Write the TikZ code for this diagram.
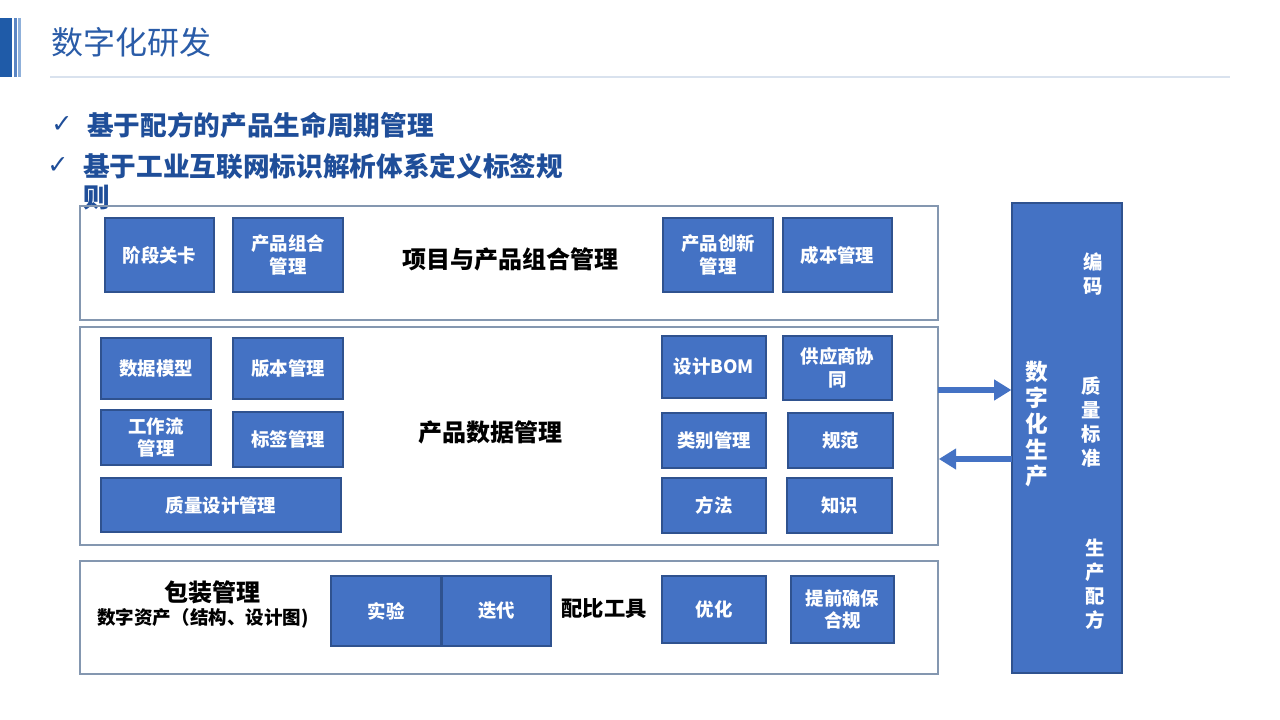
\documentclass[tikz,border=0pt]{standalone}
\usepackage{fontspec}
\setmainfont{Noto Sans CJK SC}
\newfontfamily\symf{DejaVu Sans}
\usetikzlibrary{arrows.meta}
\definecolor{boxblue}{HTML}{4472C4}
\definecolor{boxedge}{HTML}{2F528F}
\definecolor{frame}{HTML}{8497B0}
\definecolor{titleblue}{HTML}{2A5CA8}
\definecolor{bulletblue}{HTML}{1F4E99}
\definecolor{darkbar}{HTML}{1F5BA8}
\definecolor{midbar}{HTML}{5B86C4}
\definecolor{lightbar}{HTML}{8FB0DA}
\definecolor{rule}{HTML}{D9E2EE}
\tikzset{
  bluebox/.style={draw=boxedge, fill=boxblue, line width=0.9pt, text=white, align=center, inner sep=0pt,
     font=\fontsize{13.8}{17}\selectfont\bfseries},
  groupbox/.style={draw=frame, line width=1.2pt, fill=none, inner sep=0pt},
  biglabel/.style={text=black, font=\fontsize{18}{22}\selectfont\bfseries},
  flowarrow/.style={draw=boxblue, line width=3.8pt, -{Triangle[length=13pt,width=15pt]}},
  vtext/.style={text=white, align=center, font=\fontsize{14.5}{18}\selectfont\bfseries},
}
\newcommand{\bx}[6]{\node[bluebox, minimum width={(#4-#2)*0.75pt}, minimum height={(#5-#3)*0.75pt}] (#1) at ({(#2+#4)/2},{(#3+#5)/2}) {#6};}
\newcommand{\gbox}[5]{\node[groupbox, minimum width={(#4-#2)*0.75pt}, minimum height={(#5-#3)*0.75pt}] (#1) at ({(#2+#4)/2},{(#3+#5)/2}) {};}
\begin{document}
\begin{tikzpicture}[x=0.75pt, y=-0.75pt]
\useasboundingbox (0,0) rectangle (1280,720);
\fill[white] (0,0) rectangle (1280,720);
% header bars
\fill[darkbar] (0,18) rectangle (12,77);
\fill[midbar] (14,18) rectangle (16.5,77);
\fill[lightbar] (18,18) rectangle (21,77);
\node[anchor=west, text=titleblue, font=\fontsize{24}{28}\selectfont, inner sep=0pt] (title) at (51,42) {数字化研发};
\draw[rule, line width=1pt] (50,77) -- (1230,77);
% bullets
\node[anchor=west, text=bulletblue, font=\fontsize{19}{22}\selectfont\symf, inner sep=0pt] (ck1) at (51,125) {✓};
\node[anchor=west, text=bulletblue, font=\fontsize{20}{24}\selectfont\bfseries, inner sep=0pt] (b1) at (87,125) {基于配方的产品生命周期管理};
\node[anchor=west, text=bulletblue, font=\fontsize{19}{22}\selectfont\symf, inner sep=0pt] (ck2) at (47,166) {✓};
\node[anchor=north west, text=bulletblue, align=left, font=\fontsize{20}{23.5}\selectfont\bfseries, inner sep=0pt] (b2) at (83,153) {基于工业互联网标识解析体系定义标签规\\则};
% group boxes
\gbox{g1}{80}{206}{938}{320}
\gbox{g2}{80}{327}{938}{545}
\gbox{g3}{80}{561}{938}{674}
% row 1
\bx{jdgk}{105}{218}{214}{292}{阶段关卡}
\bx{cpzh}{233}{218}{343}{292}{产品组合\\管理}
\node[biglabel] (xmcp) at (510,259) {项目与产品组合管理};
\bx{cpcx}{663}{218}{773}{292}{产品创新\\管理}
\bx{cbgl}{783}{218}{892}{292}{成本管理}
% row 2
\bx{sjmx}{101}{338}{211}{399}{数据模型}
\bx{bbgl}{233}{338}{343}{399}{版本管理}
\bx{gzl}{101}{410}{211}{465}{工作流\\管理}
\bx{bqgl}{233}{412}{343}{467}{标签管理}
\bx{zlsj}{101}{478}{341}{532}{质量设计管理}
\node[biglabel] (cpsj) at (490,432) {产品数据管理};
\bx{sjbom}{662}{336}{766}{398}{设计BOM}
\bx{gys}{783}{336}{892}{400}{供应商协\\同}
\bx{lbgl}{662}{413}{766}{468}{类别管理}
\bx{gf}{788}{413}{893}{468}{规范}
\bx{ff}{662}{478}{766}{533}{方法}
\bx{zs}{787}{478}{892}{533}{知识}
% row 3
\node[biglabel] (bzgl) at (212,592) {包装管理};
\node[text=black, font=\fontsize{13.9}{16}\selectfont\bfseries] (szzc) at (203,618) {数字资产（结构、设计图)};
\bx{sy}{331}{576}{441}{646}{实验}
\bx{dd}{442}{576}{551}{646}{迭代}
\node[biglabel, font=\fontsize{16}{20}\selectfont\bfseries] (pbgj) at (604,609) {配比工具};
\bx{yh}{662}{576}{766}{643}{优化}
\bx{tq}{791}{576}{894}{643}{提前确保\\合规}
% right column
\bx{prod}{1012}{203}{1122}{673}{}
\node[vtext, font=\fontsize{17}{19.5}\selectfont\bfseries] (szhsc) at (1037,424) {数\\字\\化\\生\\产};
\node[vtext] (bm) at (1093,274) {编\\码};
\node[vtext] (zlbz) at (1091,422) {质\\量\\标\\准};
\node[vtext] (scpf) at (1095,584) {生\\产\\配\\方};
% arrows
\coordinate (a1) at (938,390);
\coordinate (a2) at (1012,459);
\draw[flowarrow] (a1) -- (prod.west |- a1);
\draw[flowarrow] (a2) -- (g2.east |- a2);
\end{tikzpicture}
\end{document}
